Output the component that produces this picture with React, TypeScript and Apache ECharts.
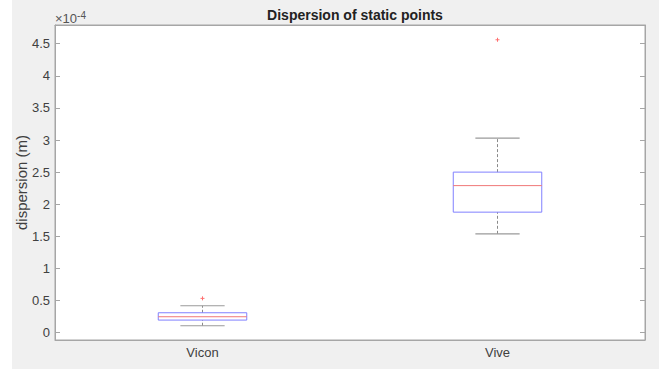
import React, { useEffect, useRef } from "react";
import * as echarts from "echarts";

// values in units of 1e-4 m (axis shows ×10^-4)
const categories = ["Vicon", "Vive"];
const whiskerLow = [0.109, 1.54];
const q1 = [0.197, 1.877];
const median = [0.249, 2.29];
const q3 = [0.311, 2.5];
const whiskerHigh = [0.42, 3.03];
const outlierCat = [0, 1];
const outlierVal = [0.535, 4.56];
const yTicks = [0, 0.5, 1, 1.5, 2, 2.5, 3, 3.5, 4, 4.5];

const FONT = "'Liberation Sans', Arial, Helvetica, sans-serif";
const AXIS = "#a6a6a6";

export default function App() {
  const ref = useRef<HTMLDivElement>(null);
  useEffect(() => {
    if (!ref.current) return;
    const chart = echarts.init(ref.current, null, { renderer: "svg" });
    const boxData = categories.map((_, i) => [i, whiskerLow[i], q1[i], median[i], q3[i], whiskerHigh[i]]);
    const outData = outlierCat.map((c, i) => [c, outlierVal[i]]);
    const yMin = -0.113;
    const yMax = 4.79;
    chart.setOption({
      animation: false,
      backgroundColor: "#ffffff",
      textStyle: { fontFamily: FONT },
      title: {
        text: "Dispersion of static points",
        left: 350,
        textAlign: "center",
        top: 3,
        textStyle: { fontSize: 14, fontWeight: "bold", color: "#222", fontFamily: FONT },
      },
      graphic: [
        { type: "rect", z: -10, shape: { x: 12, y: 0, width: 647, height: 369 }, style: { fill: "#f0f0f0" } },
        {
          type: "text",
          x: 55,
          y: 10,
          style: {
            text: "×10{s|-4}",
            fill: "#555",
            font: `13px ${FONT}`,
            rich: { s: { fontSize: 10, verticalAlign: "top", padding: [0, 0, 6, 0], fill: "#555" } },
          } as any,
        },
      ],
      grid: { left: 55, right: 23, top: 25, bottom: 29, show: true, backgroundColor: "#ffffff", borderColor: AXIS, borderWidth: 1 },
      xAxis: [
        {
          type: "category",
          data: categories,
          position: "bottom",
          axisLine: { onZero: false, lineStyle: { color: AXIS } },
          axisTick: { inside: true, alignWithLabel: true, length: 5, lineStyle: { color: AXIS } },
          axisLabel: { color: "#404040", fontSize: 13, margin: 6, fontFamily: FONT },
          splitLine: { show: false },
        },
        {
          type: "category",
          data: categories,
          position: "top",
          axisLine: { onZero: false, lineStyle: { color: AXIS } },
          axisTick: { inside: true, alignWithLabel: true, length: 5, lineStyle: { color: AXIS } },
          axisLabel: { show: false },
          splitLine: { show: false },
        },
      ],
      yAxis: [
        {
          type: "value",
          min: yMin,
          max: yMax,
          position: "left",
          name: "dispersion (m)",
          nameLocation: "middle",
          nameGap: 26,
          nameMoveOverlap: false,
          nameTextStyle: { fontSize: 15, color: "#404040", fontFamily: FONT },
          axisLine: { show: true, onZero: false, lineStyle: { color: AXIS } },
          axisTick: { show: true, inside: true, length: 5, customValues: yTicks, lineStyle: { color: AXIS } },
          axisLabel: { color: "#404040", fontSize: 13, margin: 5, customValues: yTicks, fontFamily: FONT },
          splitLine: { show: false },
        },
        {
          type: "value",
          min: yMin,
          max: yMax,
          position: "right",
          axisLine: { show: true, onZero: false, lineStyle: { color: AXIS } },
          axisTick: { show: true, inside: true, length: 5, customValues: yTicks, lineStyle: { color: AXIS } },
          axisLabel: { show: false },
          splitLine: { show: false },
        },
      ],
      series: [
        {
          type: "custom",
          xAxisIndex: 0,
          yAxisIndex: 0,
          data: boxData,
          encode: { x: 0, y: [1, 2, 3, 4, 5] },
          renderItem: (params: any, api: any) => {
            const c = api.value(0);
            const low = api.coord([c, api.value(1)]);
            const b1 = api.coord([c, api.value(2)]);
            const md = api.coord([c, api.value(3)]);
            const b3 = api.coord([c, api.value(4)]);
            const high = api.coord([c, api.value(5)]);
            const cw = api.size([1, 0])[0];
            const bw = cw * 0.3;
            const capw = bw / 2;
            const x = low[0];
            const whisk = { stroke: "#8a8a8a", lineWidth: 1, lineDash: [3, 2] };
            const cap = { stroke: "#9a9a9a", lineWidth: 1.2 };
            return {
              type: "group",
              children: [
                { type: "line", shape: { x1: x, y1: b3[1], x2: x, y2: high[1] }, style: whisk },
                { type: "line", shape: { x1: x, y1: low[1], x2: x, y2: b1[1] }, style: whisk },
                { type: "line", shape: { x1: x - capw / 2, y1: high[1], x2: x + capw / 2, y2: high[1] }, style: cap },
                { type: "line", shape: { x1: x - capw / 2, y1: low[1], x2: x + capw / 2, y2: low[1] }, style: cap },
                {
                  type: "rect",
                  shape: { x: x - bw / 2, y: b3[1], width: bw, height: b1[1] - b3[1] },
                  style: { fill: "none", stroke: "#8080ff", lineWidth: 1 },
                },
                { type: "line", shape: { x1: x - bw / 2, y1: md[1], x2: x + bw / 2, y2: md[1] }, style: { stroke: "#f07878", lineWidth: 1 } },
              ],
            };
          },
        },
        {
          type: "custom",
          xAxisIndex: 0,
          yAxisIndex: 0,
          data: outData,
          encode: { x: 0, y: 1 },
          renderItem: (params: any, api: any) => {
            const p = api.coord([api.value(0), api.value(1)]);
            const s = 2;
            const st = { stroke: "#ff7070", lineWidth: 1 };
            return {
              type: "group",
              children: [
                { type: "line", shape: { x1: p[0] - s, y1: p[1], x2: p[0] + s, y2: p[1] }, style: st },
                { type: "line", shape: { x1: p[0], y1: p[1] - s, x2: p[0], y2: p[1] + s }, style: st },
              ],
            };
          },
        },
      ],
    });
    return () => chart.dispose();
  }, []);
  return <div ref={ref} style={{ position: "fixed", left: 0, top: 0, width: 668, height: 369 }} />;
}
